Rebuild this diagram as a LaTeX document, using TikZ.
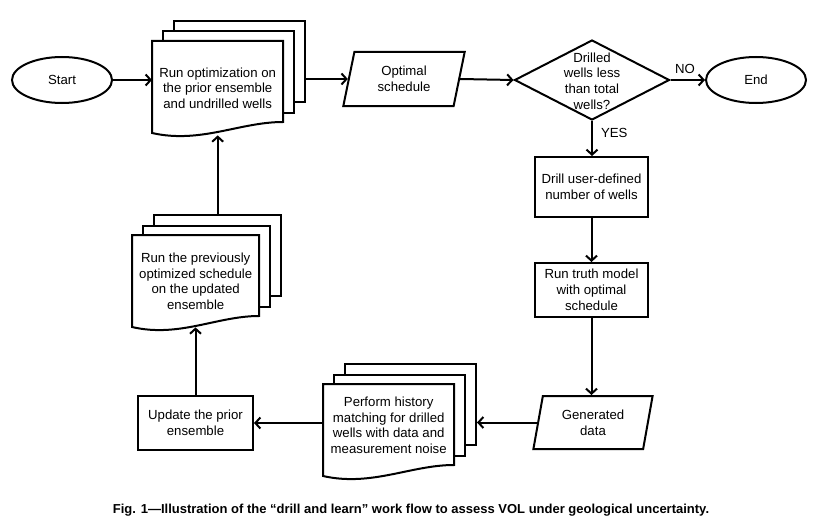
\documentclass[tikz,border=0pt]{standalone}
\usepackage{fontspec}
\setmainfont{Liberation Sans}
\usetikzlibrary{shapes.geometric,arrows.meta,calc}
\tikzset{
  lbl/.style={font=\fontsize{13.2}{15.8}\selectfont, align=center, inner sep=0pt},
  base/.style={lbl, draw=black, line width=2pt, fill=white},
  term/.style={base, ellipse, minimum width=100, minimum height=46},
  procbox/.style={base, rectangle, minimum width=113},
  iobox/.style={base, trapezium, trapezium left angle=77, trapezium right angle=103, trapezium stretches=true, minimum height=54},
  decision/.style={base, diamond, minimum width=155, minimum height=80},
  page/.style={draw=black, line width=2pt, fill=white, rectangle, inner sep=0pt, minimum height=81},
  docline/.style={draw=black, line width=2pt, fill=white, line join=miter},
  doctext/.style={lbl, rectangle},
  arr/.style={line width=2pt, -{Straight Barb[length=5pt,width=11pt]}},
}
% #1 name, #2 north-west corner, #3 width, #4 text box height, #5 text
\newcommand{\docstack}[5]{%
  \node[page, minimum width=#3, anchor=north west] (#1p3) at ($#2+(21,-21)$) {};
  \node[page, minimum width=#3, anchor=north west] (#1p2) at ($#2+(10,-10.5)$) {};
  \path[docline] #2 -- ($#2+(#3,0)$) -- ($#2+(#3,81)$)
     .. controls ($#2+(0.67*#3,81)$) and ($#2+(0.37*#3,103)$) .. ($#2+(0,92)$) -- cycle;
  \node[doctext, minimum width=#3, minimum height=#4, anchor=north west] (#1) at #2 {#5};
}
\begin{document}
\begin{tikzpicture}[x=1pt,y=-1pt]
\useasboundingbox[fill=white] (0,0) rectangle (822,527);

\node[term] (start) at (62,80) {Start};
\docstack{doc1}{(152,41)}{131}{94}{Run optimization on\\the prior ensemble\\and undrilled wells}
\node[iobox, minimum width=122] (opt) at (404,79) {Optimal\\schedule};
\node[decision] (dec) at (592,80) {};
\node[lbl] (dectext) at (592,81) {Drilled\\wells less\\than total\\wells?};
\node[term] (end) at (756,80) {End};
\node[procbox, minimum height=60] (drill) at (591.5,187) {Drill user-defined\\number of wells};
\node[procbox, minimum height=54] (truth) at (591.5,290) {Run truth model\\with optimal\\schedule};
\node[iobox, minimum width=120, minimum height=53] (gen) at (593,422.5) {Generated\\data};
\docstack{doc3}{(323,384)}{131}{82}{Perform history\\matching for drilled\\wells with data and\\measurement noise}
\node[procbox, minimum width=115, minimum height=54] (update) at (195.5,423) {Update the prior\\ensemble};
\docstack{doc2}{(132,235)}{127}{92}{Run the previously\\optimized schedule\\on the updated\\ensemble}

\draw[arr] (start.east) -- (start.east -| doc1.west);
\draw[arr] (opt.west -| doc1p3.east) -- (opt.west);
\draw[arr] (opt.east) -- (dec.west);
\draw[arr] (dec.east) -- (end.west) node[lbl, pos=0.42, above=5pt] (no) {NO};
\draw[arr] (dec.south) -- (dec.south |- drill.north) node[lbl, pos=0.35, right=8pt] (yes) {YES};
\draw[arr] (drill.south) -- (truth.north);
\draw[arr] (truth.south) -- (truth.south |- gen.north);
\draw[arr] (gen.west) -- (gen.west -| doc3p3.east);
\draw[arr] (doc3.west |- update.east) -- (update.east);
\draw[arr] (update.north) -- (update.north |- doc2.south);
\draw[arr] (doc2p3.north -| doc1.south) -- (doc1.south);

\node[font=\bfseries\fontsize{13}{15}\selectfont, inner sep=0pt] (caption) at (411,510) {Fig. 1—Illustration of the “drill and learn” work flow to assess VOL under geological uncertainty.};
\end{tikzpicture}
\end{document}
